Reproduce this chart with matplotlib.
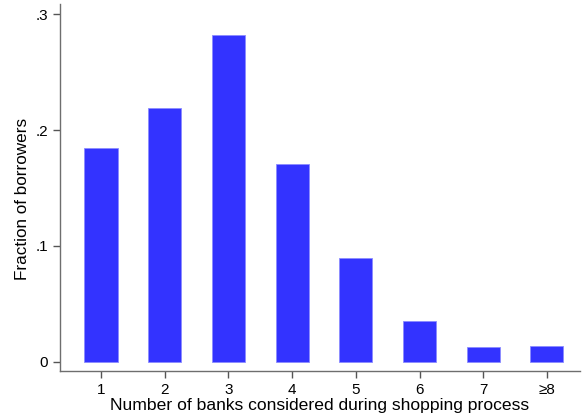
import matplotlib.pyplot as plt

plt.rcParams['font.family'] = ['Liberation Sans', 'DejaVu Sans']

banks = [1, 2, 3, 4, 5, 6, 7, 8]
bank_labels = ['1', '2', '3', '4', '5', '6', '7', '≥8']
fraction = [0.1848, 0.219, 0.2824, 0.1705, 0.0900, 0.0352, 0.0124, 0.0136]

fig = plt.figure(figsize=(5.86, 4.18), dpi=100)
ax = fig.add_axes([0.1024, 0.1124, 0.8874, 0.878])

ax.bar(banks, fraction, width=0.52, color='#3333ff', edgecolor='#8c8cff', linewidth=0.6)

ax.set_xlim(0.356, 8.52)
ax.set_ylim(-0.008, 0.3089)
ax.set_xticks(banks)
ax.set_xticklabels(bank_labels)
ax.set_yticks([0, 0.1, 0.2, 0.3])
ax.set_yticklabels(['0', '.1', '.2', '.3'])

for s in ['top', 'right']:
    ax.spines[s].set_visible(False)
for s in ['left', 'bottom']:
    ax.spines[s].set_color('#6e6e6e')
    ax.spines[s].set_linewidth(1.0)
ax.tick_params(axis='both', colors='#555555', labelcolor='black', labelsize=11, length=5, width=1.0)

ax.set_xlabel('Number of banks considered during shopping process', fontsize=12.6, labelpad=1)
ax.set_ylabel('Fraction of borrowers', fontsize=12.3)
ax.yaxis.set_label_coords(-0.058, 0.469)

fig.savefig('out.png', dpi=100)
